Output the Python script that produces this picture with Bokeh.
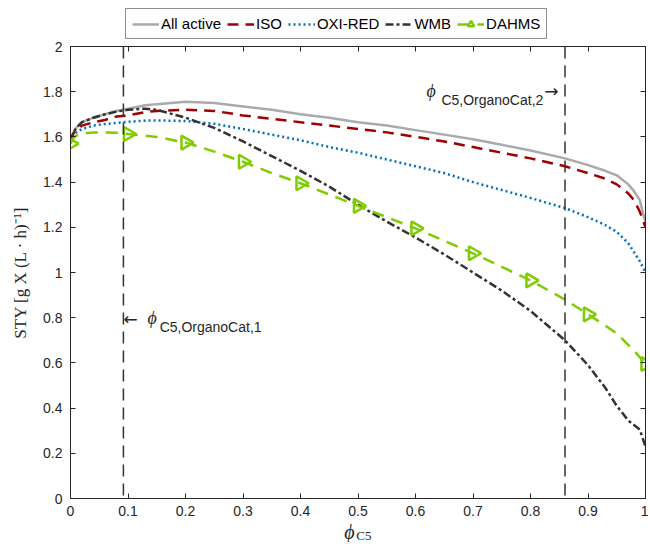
from bokeh.plotting import figure
from bokeh.layouts import column
from bokeh.models import (Legend, LegendItem, Label, LinearAxis, Span,
                          FixedTicker, CustomJSTickFormatter)
from bokeh.embed import file_html
from bokeh.resources import INLINE
import math

# ---------------- data ----------------
X = [0, 0.005, 0.01, 0.02, 0.04, 0.06, 0.08, 0.1, 0.13, 0.15, 0.2, 0.25, 0.3,
     0.35, 0.4, 0.45, 0.5, 0.55, 0.6, 0.65, 0.7, 0.75, 0.8, 0.86, 0.9, 0.93,
     0.95, 0.97, 0.98, 0.99, 1.0]
ALL_ACTIVE = [1.58, 1.62, 1.64, 1.665, 1.685, 1.70, 1.715, 1.725, 1.74, 1.745,
              1.755, 1.75, 1.735, 1.72, 1.70, 1.685, 1.665, 1.65, 1.63, 1.61,
              1.59, 1.565, 1.54, 1.505, 1.475, 1.45, 1.43, 1.39, 1.36, 1.32, 1.22]
ISO = [1.58, 1.615, 1.63, 1.65, 1.665, 1.675, 1.69, 1.695, 1.71, 1.715, 1.72,
       1.715, 1.695, 1.68, 1.665, 1.65, 1.635, 1.62, 1.60, 1.58, 1.555, 1.53,
       1.505, 1.47, 1.44, 1.415, 1.39, 1.35, 1.32, 1.27, 1.20]
OXI_RED = [1.58, 1.61, 1.62, 1.635, 1.65, 1.657, 1.662, 1.667, 1.672, 1.673,
           1.67, 1.658, 1.635, 1.61, 1.585, 1.555, 1.53, 1.50, 1.47, 1.44, 1.40,
           1.365, 1.33, 1.285, 1.245, 1.21, 1.18, 1.13, 1.09, 1.05, 1.00]
WMB = [1.58, 1.62, 1.64, 1.665, 1.685, 1.70, 1.712, 1.72, 1.725, 1.72, 1.685,
       1.64, 1.58, 1.515, 1.45, 1.38, 1.30, 1.225, 1.155, 1.08, 1.00, 0.92,
       0.83, 0.70, 0.59, 0.49, 0.41, 0.345, 0.325, 0.305, 0.23]
DAHMS = [1.57, 1.595, 1.605, 1.615, 1.62, 1.62, 1.618, 1.613, 1.605, 1.60,
         1.575, 1.535, 1.49, 1.44, 1.395, 1.345, 1.295, 1.245, 1.195, 1.14,
         1.085, 1.025, 0.965, 0.88, 0.815, 0.765, 0.73, 0.68, 0.655, 0.625, 0.595]
DAHMS_MARK_X = [0, 0.1, 0.2, 0.3, 0.4, 0.5, 0.6, 0.7, 0.8, 0.9, 1.0]
DAHMS_MARK_Y = [1.57, 1.613, 1.575, 1.49, 1.395, 1.295, 1.195, 1.085, 0.965,
                0.815, 0.595]
PHI_1 = 0.092
PHI_2 = 0.86
X_TICKS = [0, 0.1, 0.2, 0.3, 0.4, 0.5, 0.6, 0.7, 0.8, 0.9, 1.0]
Y_TICKS = [0, 0.2, 0.4, 0.6, 0.8, 1.0, 1.2, 1.4, 1.6, 1.8, 2.0]
SERIES = ["All active", "ISO", "OXI-RED", "WMB", "DAHMS"]
SERIES_Y = [ALL_ACTIVE, ISO, OXI_RED, WMB, DAHMS]

AX = "#262626"
SANS = "Liberation Sans"
SERIF = "Liberation Serif"

STYLES = {
    "All active": dict(line_color="#AAAAAA", line_dash="solid"),
    "ISO": dict(line_color="#A00000", line_dash="11 7"),
    "OXI-RED": dict(line_color="#0072BD", line_dash="2 3"),
    "WMB": dict(line_color="#333333", line_dash="8 3 3 3"),
    "DAHMS": dict(line_color="#7FCC00", line_dash="12 8"),
}
LW = 2.5
MARK = dict(marker="triangle", size=14, angle=-math.pi / 2, fill_color=None,
            line_color="#7FCC00", line_width=2.5)


def strip(height):
    f = figure(width=648, height=height, x_range=(0, 1), y_range=(0, 1),
               x_axis_type=None, y_axis_type=None, output_backend="svg",
               toolbar_location=None, min_border=0)
    f.xgrid.visible = False
    f.ygrid.visible = False
    f.outline_line_color = None
    f.background_fill_color = "white"
    f.border_fill_color = "white"
    return f


# ---------------- main axes ----------------
p = figure(frame_width=575, frame_height=452, x_range=(0, 1), y_range=(0, 2),
           output_backend="svg", toolbar_location=None,
           min_border_left=70, min_border_right=3, min_border_bottom=24,
           min_border_top=6)
p.xgrid.visible = False
p.ygrid.visible = False
p.outline_line_color = AX
p.outline_line_width = 1
p.background_fill_color = "white"
p.border_fill_color = "white"

fmt = CustomJSTickFormatter(code="return Number(tick.toFixed(2)).toString();")
blank = CustomJSTickFormatter(code="return '';")

for ax, ticks in ((p.xaxis[0], X_TICKS), (p.yaxis[0], Y_TICKS)):
    ax.ticker = FixedTicker(ticks=ticks)
    ax.formatter = fmt
    ax.major_tick_in = 5
    ax.major_tick_out = 0
    ax.minor_tick_line_color = None
    ax.axis_line_color = AX
    ax.major_tick_line_color = AX
    ax.major_label_text_font = SANS
    ax.major_label_text_font_size = "14px"
    ax.major_label_text_color = AX
    ax.major_label_standoff = 8
p.xaxis.major_label_standoff = 7

p.yaxis.axis_label = "STY [g X (L · h)⁻¹]"
p.yaxis.axis_label_text_font = SERIF
p.yaxis.axis_label_text_font_style = "normal"
p.yaxis.axis_label_text_font_size = "17px"
p.yaxis.axis_label_text_color = AX
p.yaxis.axis_label_standoff = 10

for side, ticks in (("above", X_TICKS), ("right", Y_TICKS)):
    a = LinearAxis(ticker=FixedTicker(ticks=ticks), formatter=blank,
                   major_tick_in=5, major_tick_out=0,
                   minor_tick_line_color=None, major_label_standoff=0,
                   axis_line_color=AX, major_tick_line_color=AX)
    p.add_layout(a, side)

# vertical reference lines
for loc in (PHI_1, PHI_2):
    p.add_layout(Span(location=loc, dimension="height", line_color="#333333",
                      line_width=1.5, line_dash="12 7"))

for name, ys in zip(SERIES, SERIES_Y):
    p.line(X, ys, line_width=LW, **STYLES[name])
p.scatter(DAHMS_MARK_X, DAHMS_MARK_Y, **MARK)

# annotations
p.add_layout(Label(x=0.619, y=1.805, text="ϕ", text_font=SERIF,
                   text_font_style="italic", text_font_size="18px",
                   text_color=AX, text_baseline="middle"))
p.add_layout(Label(x=0.645, y=1.765, text="C5,OrganoCat,2", text_font=SANS,
                   text_font_size="14px", text_color=AX, text_baseline="middle"))
p.add_layout(Label(x=0.824, y=1.805, text="→", text_font="DejaVu Sans",
                   text_font_size="17px", text_color=AX, text_baseline="middle"))

p.add_layout(Label(x=0.092, y=0.795, text="←", text_font="DejaVu Sans",
                   text_font_size="17px", text_color=AX, text_baseline="middle"))
p.add_layout(Label(x=0.134, y=0.80, text="ϕ", text_font=SERIF,
                   text_font_style="italic", text_font_size="18px",
                   text_color=AX, text_baseline="middle"))
p.add_layout(Label(x=0.155, y=0.757, text="C5,OrganoCat,1", text_font=SANS,
                   text_font_size="14px", text_color=AX, text_baseline="middle"))

# ---------------- legend strip above the axes ----------------
pl = strip(40)
pl.y_range.start = 10
pl.y_range.end = 11   # legend renderers stay out of view
items = []
for name, ys in zip(SERIES, SERIES_Y):
    rs = [pl.line(X, ys, line_width=LW, **STYLES[name])]
    if name == "DAHMS":
        rs.append(pl.scatter(DAHMS_MARK_X, DAHMS_MARK_Y, **MARK))
    items.append(LegendItem(label=name, renderers=rs))

legend = Legend(items=items, orientation="horizontal", location=(55, 1))
legend.label_text_font = SANS
legend.label_text_font_size = "15px"
legend.label_text_color = "black"
legend.border_line_color = AX
legend.border_line_width = 1
legend.background_fill_color = "white"
legend.background_fill_alpha = 1
legend.glyph_width = 27
legend.glyph_height = 16
legend.label_standoff = 2
legend.spacing = 6
legend.padding = 6
legend.margin = 0
legend.label_height = 16
pl.add_layout(legend, "center")

# ---------------- x-axis title strip (phi with subscript C5) ----------------
px_ = strip(20)
px_.add_layout(Label(x=0.476, y=0.52, text="ϕ", text_font=SERIF,
                     text_font_style="italic", text_font_size="20px",
                     text_color=AX, text_baseline="middle"))
px_.add_layout(Label(x=0.497, y=0.36, text="C5", text_font=SERIF,
                     text_font_size="13px", text_color=AX,
                     text_baseline="middle"))

layout = column(pl, p, px_, spacing=0)
open("out.html", "w").write(file_html(layout, INLINE))
